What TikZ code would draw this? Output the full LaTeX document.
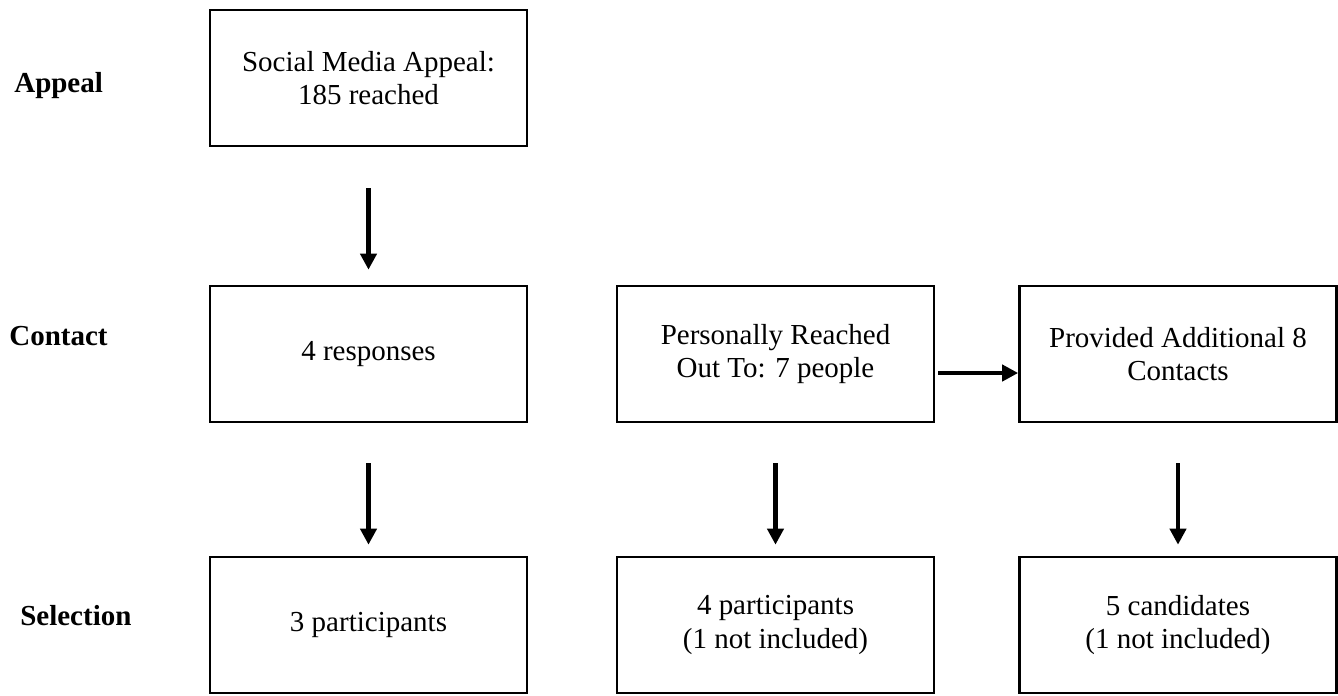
\documentclass[tikz,border=0pt]{standalone}
\usepackage{xcolor}
\usepackage{fontspec}
\setmainfont{Liberation Serif}
\usetikzlibrary{arrows.meta}

\begin{document}
\begin{tikzpicture}[every node/.style={rectangle, draw, line width=1.5pt, inner sep=0pt,
    minimum width=6.34cm, minimum height=2.72cm, align=center,
    font=\fontsize{16.5}{19}\selectfont},
  stage/.style={draw=none, minimum width=0pt, minimum height=0pt, anchor=base west,
    font=\fontsize{16.5}{19}\selectfont\bfseries},
  arr/.style={line width=2.8pt, -{Triangle[width=0.32cm, length=0.32cm]}}]

  \useasboundingbox (0,0) rectangle (26.76,-13.9);

  % Stage labels
  \node[stage] (lappeal) at (0.26,-1.84) {Appeal};
  \node[stage] (lcontact) at (0.16,-6.9) {Contact};
  \node[stage] (lselect) at (0.38,-12.5) {Selection};

  % Appeal
  \node (soc) at (7.37,-1.56) {Social Media Appeal:\\185 reached};

  % Contact
  \node (resp) at (7.37,-7.08) {4 responses};
  \node (pers) at (15.51,-7.08) {Personally Reached\\Out To: 7 people};
  \node (prov) at (23.56,-7.08) {Provided Additional 8\\Contacts};

  % Selection
  \node (part1) at (7.37,-12.5) {3 participants};
  \node (part2) at (15.51,-12.5) {4 participants\\(1 not included)};
  \node (cand) at (23.56,-12.5) {5 candidates\\(1 not included)};

  \draw[arr, shorten <=0.82cm, shorten >=0.3cm] (soc) -- (resp);
  \draw[arr, shorten <=0.8cm, shorten >=0.22cm] (resp) -- (part1);
  \draw[arr, shorten <=0.8cm, shorten >=0.22cm] (pers) -- (part2);
  \draw[arr, shorten <=0.8cm, shorten >=0.22cm] (prov) -- (cand);
  \draw[arr, shorten <=0.06cm] ([yshift=-0.38cm]pers.east) -- ([yshift=-0.38cm]prov.west);
\end{tikzpicture}
\end{document}
